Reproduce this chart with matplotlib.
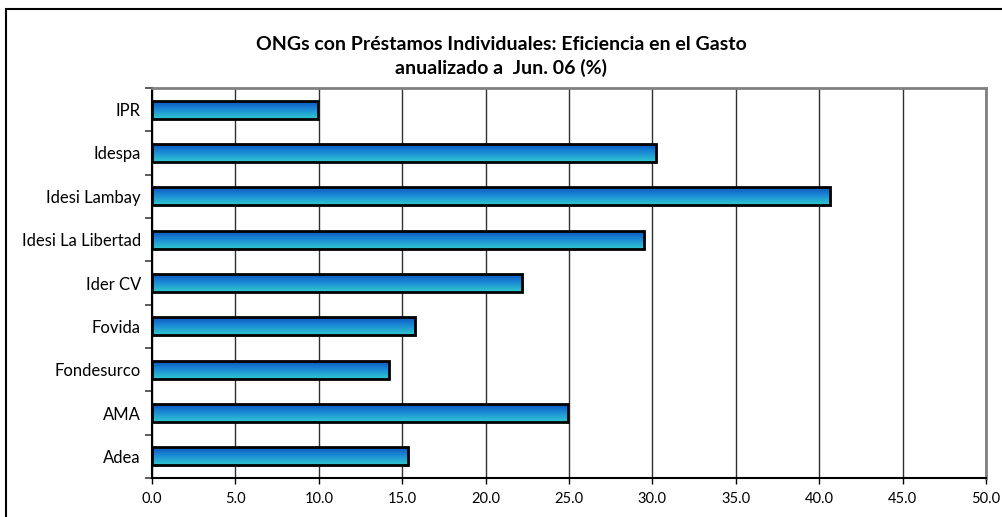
import numpy as np
import matplotlib
matplotlib.use('Agg')
from matplotlib import pyplot as plt
from matplotlib.colors import LinearSegmentedColormap
from matplotlib.patches import Rectangle

# Datos: eficiencia en el gasto (%), de abajo hacia arriba
categorias = ['Adea', 'AMA', 'Fondesurco', 'Fovida', 'Ider CV',
              'Idesi La Libertad', 'Idesi Lambay', 'Idespa', 'IPR']
valores = [15.35, 24.95, 14.2, 15.75, 22.2, 29.5, 40.65, 30.2, 9.95]
ticks_x = [0.0, 5.0, 10.0, 15.0, 20.0, 25.0, 30.0, 35.0, 40.0, 45.0, 50.0]

plt.rcParams['font.family'] = ['Lato', 'DejaVu Sans']

fig = plt.figure(figsize=(10.02, 5.17), dpi=100)
ax = fig.add_axes([152 / 1002, 1 - 478 / 517, (986 - 152) / 1002, (478 - 88) / 517])

# borde exterior del area del grafico
fig.patches.append(Rectangle((6 / 1002, -0.1), 1.1, 1 - 9 / 517 + 0.1,
                             transform=fig.transFigure, fill=False,
                             edgecolor='black', linewidth=1.5))

# degradado azul -> cian
cmap = LinearSegmentedColormap.from_list('barra', ['#0B55C0', '#1E8FD6', '#2FC8CE'])
grad = np.linspace(0, 1, 64).reshape(-1, 1)

h = 0.41
y = np.arange(len(categorias))
for yi, v in zip(y, valores):
    # sombra
    ax.add_patch(Rectangle((0, yi - h / 2 - 0.03), v + 0.12, h, facecolor='#c8c8c8',
                           edgecolor='none', zorder=2))
    ax.imshow(grad, cmap=cmap, extent=[0, v, yi - h / 2, yi + h / 2],
              aspect='auto', origin='upper', zorder=3)
    ax.add_patch(Rectangle((0, yi - h / 2), v, h, facecolor='none',
                           edgecolor='black', linewidth=2, zorder=4))

ax.set_xlim(0, 50)
ax.set_ylim(-0.5, len(categorias) - 0.5)
ax.set_xticks(ticks_x)
ax.set_xticklabels(['%.1f' % t for t in ticks_x], fontsize=10.5)
ax.set_yticks(y)
ax.set_yticklabels(categorias, fontsize=12)
ax.set_yticks(np.arange(-0.5, len(categorias), 1), minor=True)
ax.tick_params(axis='y', which='major', length=0, pad=8)
ax.tick_params(axis='y', which='minor', length=5, width=1.2, direction='out', color='#404040')
ax.tick_params(axis='x', length=4, width=1, direction='out', pad=6)
ax.grid(True, axis='x', color='#303030', linewidth=1, zorder=1)
ax.set_axisbelow(True)

for lado in ['top', 'right']:
    ax.spines[lado].set_color('#808080')
    ax.spines[lado].set_linewidth(2)
ax.spines['left'].set_color('black')
ax.spines['bottom'].set_color('black')
ax.spines['left'].set_linewidth(1.5)
ax.spines['bottom'].set_linewidth(1.5)

fig.text(0.5, 1 - 45 / 517, 'ONGs con Préstamos Individuales: Eficiencia en el Gasto',
         ha='center', va='center', fontsize=14, fontweight='bold')
fig.text(0.5, 1 - 68 / 517, 'anualizado a  Jun. 06 (%)',
         ha='center', va='center', fontsize=14, fontweight='bold')

fig.savefig('out.png', dpi=100)
